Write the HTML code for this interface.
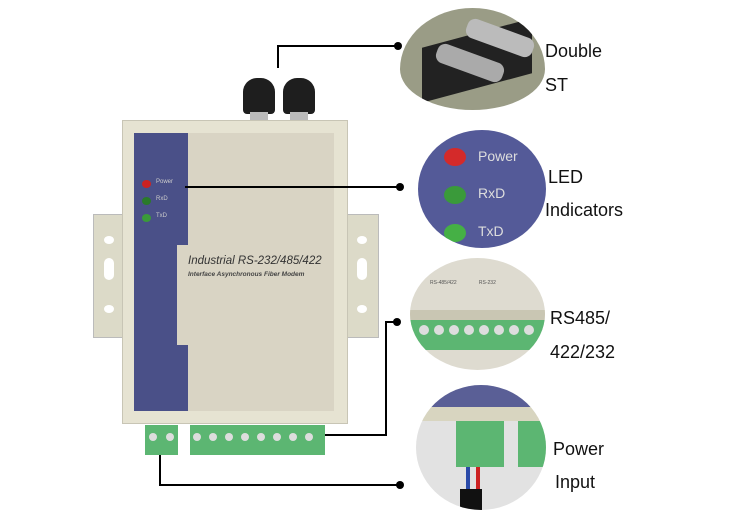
<!DOCTYPE html>
<html><head><style>
body{margin:0;width:741px;height:529px;background:#fff;position:relative;overflow:hidden;font-family:"Liberation Sans",sans-serif}
.a{position:absolute}
.lbl{position:absolute;font-size:18px;color:#111}
.circ{position:absolute;border-radius:50%;overflow:hidden}
</style></head><body>
<!-- flanges -->
<div class="a" style="left:93px;top:214px;width:34px;height:122px;background:#dcdac8;border:1px solid #bbb"></div>
<div class="a" style="left:343px;top:214px;width:34px;height:122px;background:#dcdac8;border:1px solid #bbb"></div>
<div class="a" style="left:104px;top:236px;width:10px;height:8px;border-radius:50%;background:#fff"></div>
<div class="a" style="left:104px;top:258px;width:10px;height:22px;border-radius:5px;background:#fff"></div>
<div class="a" style="left:104px;top:305px;width:10px;height:8px;border-radius:50%;background:#fff"></div>
<div class="a" style="left:357px;top:236px;width:10px;height:8px;border-radius:50%;background:#fff"></div>
<div class="a" style="left:357px;top:258px;width:10px;height:22px;border-radius:5px;background:#fff"></div>
<div class="a" style="left:357px;top:305px;width:10px;height:8px;border-radius:50%;background:#fff"></div>
<!-- connectors -->
<div class="a" style="left:243px;top:78px;width:32px;height:36px;border-radius:14px 14px 4px 4px;background:#1e1e1e"></div>
<div class="a" style="left:283px;top:78px;width:32px;height:36px;border-radius:14px 14px 4px 4px;background:#1e1e1e"></div>
<div class="a" style="left:250px;top:112px;width:18px;height:8px;background:#bbb"></div>
<div class="a" style="left:290px;top:112px;width:18px;height:8px;background:#bbb"></div>
<!-- body -->
<div class="a" style="left:122px;top:120px;width:224px;height:302px;background:#e6e3d2;border:1px solid #c8c5b5"></div>
<div class="a" style="left:134px;top:133px;width:200px;height:278px;background:#d9d4c4"></div>
<div class="a" style="left:134px;top:133px;width:54px;height:278px;background:#4a5088"></div>
<div class="a" style="left:177px;top:245px;width:11px;height:100px;background:#d9d4c4"></div>
<div class="a" style="left:142px;top:180px;width:9px;height:8px;border-radius:50%;background:#c22"></div>
<div class="a" style="left:142px;top:197px;width:9px;height:8px;border-radius:50%;background:#2a7a2a"></div>
<div class="a" style="left:142px;top:214px;width:9px;height:8px;border-radius:50%;background:#3a9a3a"></div>
<div class="a" style="left:156px;top:179px;font-size:6px;color:#ccc">Power</div>
<div class="a" style="left:156px;top:196px;font-size:6px;color:#ccc">RxD</div>
<div class="a" style="left:156px;top:213px;font-size:6px;color:#ccc">TxD</div>
<div class="a" style="left:188px;top:255px;font-size:11.5px;font-style:italic;color:#333">Industrial RS-232/485/422</div>
<div class="a" style="left:188px;top:271px;font-size:6.5px;font-style:italic;font-weight:bold;color:#444">Interface Asynchronous Fiber Modem</div>
<!-- terminal blocks -->
<div class="a" style="left:145px;top:425px;width:33px;height:30px;background:#5cb672"></div>
<div class="a" style="left:190px;top:425px;width:135px;height:30px;background:#5cb672"></div>
<!-- lines -->
<svg class="a" style="left:0;top:0" width="741" height="529">
<g stroke="#000" stroke-width="2" fill="none">
<polyline points="278,68 278,46 398,46"/>
<line x1="185" y1="187" x2="400" y2="187"/>
<polyline points="325,435 386,435 386,322 397,322"/>
<polyline points="160,455 160,485 400,485"/>
</g>
<g fill="#000"><circle cx="398" cy="46" r="4"/><circle cx="400" cy="187" r="4"/><circle cx="397" cy="322" r="4"/><circle cx="400" cy="485" r="4"/></g>
<g fill="#ddd">
<circle cx="197" cy="437" r="4"/><circle cx="213" cy="437" r="4"/><circle cx="229" cy="437" r="4"/><circle cx="245" cy="437" r="4"/><circle cx="261" cy="437" r="4"/><circle cx="277" cy="437" r="4"/><circle cx="293" cy="437" r="4"/><circle cx="309" cy="437" r="4"/><circle cx="153" cy="437" r="4"/><circle cx="170" cy="437" r="4"/></g>
</svg>
<!-- circles -->
<div class="circ" style="left:400px;top:8px;width:145px;height:102px;background:#9a9c86;border-radius:50% 50% 50% 50%/60% 60% 40% 40%">
 <div class="a" style="left:22px;top:25px;width:110px;height:55px;background:#222;transform:skewY(-15deg)"></div>
 <div class="a" style="left:35px;top:45px;width:70px;height:20px;background:#aaa;border-radius:8px;transform:rotate(20deg)"></div>
 <div class="a" style="left:65px;top:20px;width:70px;height:20px;background:#bbb;border-radius:8px;transform:rotate(20deg)"></div>
</div>
<div class="circ" style="left:418px;top:130px;width:128px;height:118px;background:#545a98">
 <div class="a" style="left:26px;top:18px;width:22px;height:18px;border-radius:50%;background:#d42a2a"></div>
 <div class="a" style="left:26px;top:56px;width:22px;height:18px;border-radius:50%;background:#3a9a3a"></div>
 <div class="a" style="left:26px;top:94px;width:22px;height:18px;border-radius:50%;background:#45b045"></div>
 <div class="a" style="left:60px;top:18px;font-size:14px;color:#ddd">Power</div>
 <div class="a" style="left:60px;top:55px;font-size:14px;color:#ddd">RxD</div>
 <div class="a" style="left:60px;top:93px;font-size:14px;color:#ddd">TxD</div>
</div>
<div class="circ" style="left:410px;top:258px;width:135px;height:112px;background:#dedbd0">
 <div class="a" style="left:20px;top:22px;font-size:5px;color:#555">RS-485/422 &nbsp;&nbsp;&nbsp;&nbsp;&nbsp;&nbsp;&nbsp;&nbsp;&nbsp;&nbsp;&nbsp;&nbsp;&nbsp;&nbsp; RS-232</div>
 <div class="a" style="left:0;top:52px;width:135px;height:10px;background:#c9c6b3"></div>
 <div class="a" style="left:0;top:62px;width:135px;height:30px;background:#5cb672"></div>
 <svg class="a" style="left:0;top:62px" width="135" height="30"><g fill="#ddd"><circle cx="14" cy="10" r="5"/><circle cx="29" cy="10" r="5"/><circle cx="44" cy="10" r="5"/><circle cx="59" cy="10" r="5"/><circle cx="74" cy="10" r="5"/><circle cx="89" cy="10" r="5"/><circle cx="104" cy="10" r="5"/><circle cx="119" cy="10" r="5"/></g></svg>
</div>
<div class="circ" style="left:416px;top:385px;width:130px;height:125px;background:#e2e2e2">
 <div class="a" style="left:0;top:0;width:130px;height:22px;background:#5a5f96"></div>
 <div class="a" style="left:0;top:22px;width:130px;height:14px;background:#d8d5c0"></div>
 <div class="a" style="left:40px;top:36px;width:48px;height:46px;background:#5cb672"></div>
 <div class="a" style="left:102px;top:36px;width:30px;height:46px;background:#5cb672"></div>
 <div class="a" style="left:50px;top:82px;width:4px;height:25px;background:#2a4aa8"></div>
 <div class="a" style="left:60px;top:82px;width:4px;height:25px;background:#c22"></div>
 <div class="a" style="left:44px;top:104px;width:22px;height:25px;background:#111"></div>
</div>
<div class="lbl" style="left:545px;top:41px">Double</div>
<div class="lbl" style="left:545px;top:75px">ST</div>
<div class="lbl" style="left:548px;top:167px">LED</div>
<div class="lbl" style="left:545px;top:200px">Indicators</div>
<div class="lbl" style="left:550px;top:308px">RS485/</div>
<div class="lbl" style="left:550px;top:342px">422/232</div>
<div class="lbl" style="left:553px;top:439px">Power</div>
<div class="lbl" style="left:555px;top:472px">Input</div>
</body></html>
